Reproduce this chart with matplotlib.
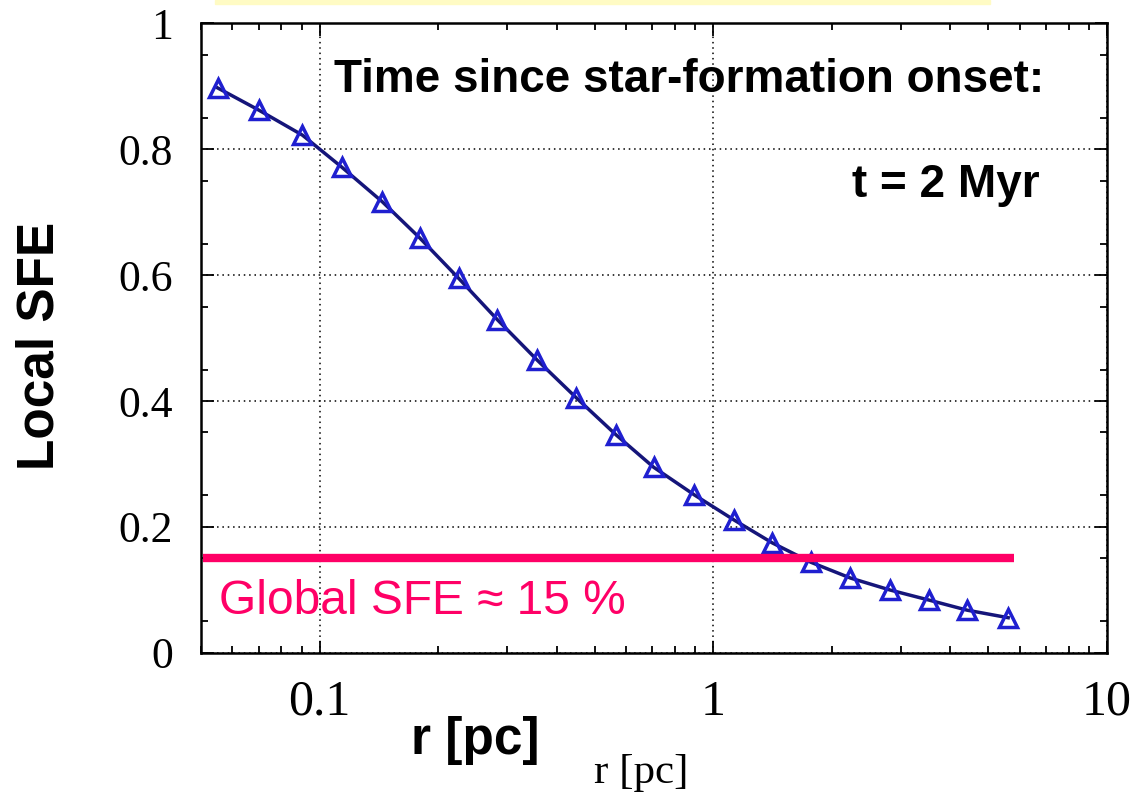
import numpy as np
import matplotlib.pyplot as plt
from matplotlib.ticker import FixedLocator, FixedFormatter, NullFormatter
from matplotlib.patches import Rectangle

# local star-formation efficiency vs radius, t = 2 Myr
r_pc = [0.0551, 0.0700, 0.0905, 0.114, 0.1445, 0.1796, 0.2254, 0.283, 0.357, 0.449,
        0.567, 0.705, 0.895, 1.13, 1.41, 1.77, 2.23, 2.81, 3.53, 4.41, 5.61]
local_sfe = [0.897, 0.862, 0.822, 0.771, 0.716, 0.659, 0.595, 0.529, 0.465, 0.405,
             0.346, 0.295, 0.251, 0.211, 0.175, 0.144, 0.119, 0.100, 0.084, 0.068, 0.056]

global_sfe = 0.15
global_r = [0.0505, 5.8]

xticks = [0.1, 1, 10]
xlabels = ['0.1', '1', '10']
yticks = [0, 0.2, 0.4, 0.6, 0.8, 1]
ylabels = ['0', '0.2', '0.4', '0.6', '0.8', '1']

fig = plt.figure(figsize=(11.48, 7.94), dpi=100)
ax = fig.add_axes([0.1751, 0.1776, 0.7892, 0.7934])

ax.set_xscale('log')
ax.set_xlim(0.05, 10)
ax.set_ylim(0, 1)

ax.plot(r_pc, local_sfe, color='#15157a', lw=2.5, zorder=3)
ax.plot(r_pc, local_sfe, ls='none', marker='^', ms=12.5, mfc='none',
        mec='#1f1fd0', mew=2.5, zorder=4)

ax.plot(global_r, [global_sfe, global_sfe], color='#ff0066', lw=6, solid_capstyle='butt', zorder=5)
ax.text(0.0555, 0.082, 'Global SFE \u2248 15 %', color='#ff0066', fontsize=34.5,
        family='Liberation Sans', va='center', ha='left')

ax.text(6.92, 0.890, 'Time since star-formation onset:', fontsize=33, fontweight='bold',
        family='Liberation Sans', ha='right', va='baseline')
ax.text(6.75, 0.724, 't = 2 Myr', fontsize=33, fontweight='bold',
        family='Liberation Sans', ha='right', va='baseline')

# gnuplot-like frame: inward ticks on all sides, dotted grid at majors
ax.xaxis.set_major_locator(FixedLocator(xticks))
ax.xaxis.set_major_formatter(FixedFormatter(xlabels))
minor_x = [m * d for d in [0.01, 0.1, 1] for m in range(2, 10)]
ax.xaxis.set_minor_locator(FixedLocator(minor_x))
ax.xaxis.set_minor_formatter(NullFormatter())
ax.yaxis.set_major_locator(FixedLocator(yticks))
ax.yaxis.set_major_formatter(FixedFormatter(ylabels))
ax.yaxis.set_minor_locator(FixedLocator(np.arange(0.05, 1.0, 0.1)))

ax.tick_params(which='both', direction='in', top=True, right=True, width=1.3, color='black')
ax.tick_params(which='major', length=9)
ax.tick_params(which='minor', length=5)
ax.tick_params(axis='x', which='major', pad=19, labelsize=36)
ax.tick_params(axis='y', which='major', pad=20, labelsize=31.5)
for lab in ax.get_xticklabels() + ax.get_yticklabels():
    lab.set_family('Liberation Serif')

ax.grid(True, which='major', ls=(0, (1, 2.5)), color='black', lw=1.1)
for s in ax.spines.values():
    s.set_linewidth(1.8)

fig.text(0.035, 0.565, 'Local SFE', rotation=90, fontsize=37, fontweight='bold',
         family='Liberation Sans', ha='center', va='center')
fig.text(0.414, 0.068, 'r [pc]', fontsize=37, fontweight='bold',
         family='Liberation Sans', ha='center', va='center')
fig.text(0.559, 0.027, 'r [pc]', fontsize=31, family='Liberation Serif',
         ha='center', va='center')

# thin yellow strip along the top edge
fig.patches.append(Rectangle((0.187, 0.995), 0.675, 0.005, transform=fig.transFigure,
                             color='#fffbc4', zorder=0))

fig.savefig('out.png', dpi=100)
